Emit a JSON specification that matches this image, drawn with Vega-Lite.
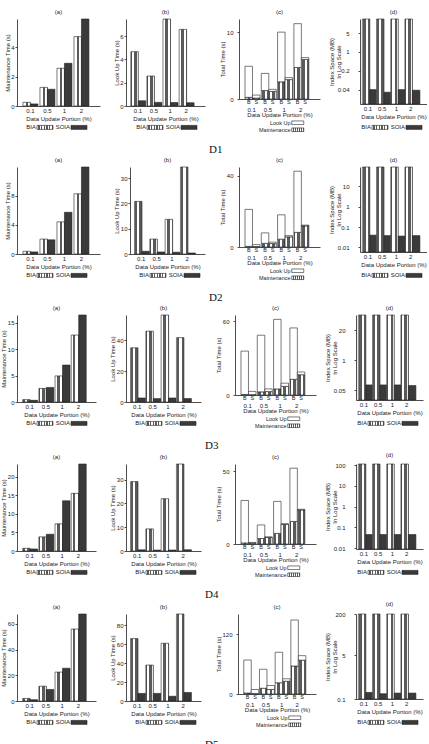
{
"$schema":"https://vega.github.io/schema/vega-lite/v6.json",
"padding":{"left":0,"top":8,"right":0,"bottom":0},
"params":[{"name":"hatch","expr":"{gradient:'linear',x1:0,y1:0,x2:1,y2:0,stops:[{offset:0,color:'#fff'},{offset:0.075,color:'#fff'},{offset:0.075,color:'#5a5a5a'},{offset:0.1667,color:'#5a5a5a'},{offset:0.1667,color:'#fff'},{offset:0.2417,color:'#fff'},{offset:0.2417,color:'#5a5a5a'},{offset:0.3333,color:'#5a5a5a'},{offset:0.3333,color:'#fff'},{offset:0.4083,color:'#fff'},{offset:0.4083,color:'#5a5a5a'},{offset:0.5,color:'#5a5a5a'},{offset:0.5,color:'#fff'},{offset:0.575,color:'#fff'},{offset:0.575,color:'#5a5a5a'},{offset:0.6667,color:'#5a5a5a'},{offset:0.6667,color:'#fff'},{offset:0.7417,color:'#fff'},{offset:0.7417,color:'#5a5a5a'},{offset:0.8333,color:'#5a5a5a'},{offset:0.8333,color:'#fff'},{offset:0.9083,color:'#fff'},{offset:0.9083,color:'#5a5a5a'},{offset:1,color:'#5a5a5a'}]}"}],
"datasets":{
"D1":[
{"g":"0.1","m":"BIA","ab":"B","Maintenance":0.25,"Look Up":4.66,"space":16.7},
{"g":"0.1","m":"SOIA","ab":"S","Maintenance":0.14,"Look Up":0.45,"space":0.04},
{"g":"0.5","m":"BIA","ab":"B","Maintenance":1.27,"Look Up":2.57,"space":16.7},
{"g":"0.5","m":"SOIA","ab":"S","Maintenance":1.14,"Look Up":0.31,"space":0.032},
{"g":"1","m":"BIA","ab":"B","Maintenance":2.57,"Look Up":7.46,"space":16.7},
{"g":"1","m":"SOIA","ab":"S","Maintenance":2.91,"Look Up":0.3,"space":0.04},
{"g":"2","m":"BIA","ab":"B","Maintenance":4.73,"Look Up":6.57,"space":16.7},
{"g":"2","m":"SOIA","ab":"S","Maintenance":5.93,"Look Up":0.28,"space":0.038}],
"D2":[
{"g":"0.1","m":"BIA","ab":"B","Maintenance":0.37,"Look Up":20.8,"space":86},
{"g":"0.1","m":"SOIA","ab":"S","Maintenance":0.28,"Look Up":1.07,"space":0.04},
{"g":"0.5","m":"BIA","ab":"B","Maintenance":2.04,"Look Up":5.9,"space":86},
{"g":"0.5","m":"SOIA","ab":"S","Maintenance":1.94,"Look Up":0.8,"space":0.038},
{"g":"1","m":"BIA","ab":"B","Maintenance":4.4,"Look Up":13.7,"space":86},
{"g":"1","m":"SOIA","ab":"S","Maintenance":5.7,"Look Up":0.7,"space":0.036},
{"g":"2","m":"BIA","ab":"B","Maintenance":8.24,"Look Up":34.4,"space":86},
{"g":"2","m":"SOIA","ab":"S","Maintenance":11.9,"Look Up":0.4,"space":0.038}],
"D3":[
{"g":"0.1","m":"BIA","ab":"B","Maintenance":0.45,"Look Up":35.2,"space":90},
{"g":"0.1","m":"SOIA","ab":"S","Maintenance":0.32,"Look Up":2.6,"space":0.085},
{"g":"0.5","m":"BIA","ab":"B","Maintenance":2.57,"Look Up":46,"space":90},
{"g":"0.5","m":"SOIA","ab":"S","Maintenance":2.77,"Look Up":2.2,"space":0.085},
{"g":"1","m":"BIA","ab":"B","Maintenance":4.95,"Look Up":56.5,"space":90},
{"g":"1","m":"SOIA","ab":"S","Maintenance":7.0,"Look Up":2.6,"space":0.085},
{"g":"2","m":"BIA","ab":"B","Maintenance":12.7,"Look Up":41.8,"space":90},
{"g":"2","m":"SOIA","ab":"S","Maintenance":16.5,"Look Up":2.2,"space":0.08}],
"D4":[
{"g":"0.1","m":"BIA","ab":"B","Maintenance":0.73,"Look Up":29.2,"space":115},
{"g":"0.1","m":"SOIA","ab":"S","Maintenance":0.55,"Look Up":0.5,"space":0.045},
{"g":"0.5","m":"BIA","ab":"B","Maintenance":3.8,"Look Up":9.3,"space":115},
{"g":"0.5","m":"SOIA","ab":"S","Maintenance":4.5,"Look Up":0.4,"space":0.045},
{"g":"1","m":"BIA","ab":"B","Maintenance":7.3,"Look Up":22,"space":115},
{"g":"1","m":"SOIA","ab":"S","Maintenance":13.5,"Look Up":0.4,"space":0.045},
{"g":"2","m":"BIA","ab":"B","Maintenance":15.5,"Look Up":36.6,"space":115},
{"g":"2","m":"SOIA","ab":"S","Maintenance":23.4,"Look Up":0.5,"space":0.045}],
"D5":[
{"g":"0.1","m":"BIA","ab":"B","Maintenance":2,"Look Up":66,"space":200},
{"g":"0.1","m":"SOIA","ab":"S","Maintenance":1,"Look Up":8,"space":0.18},
{"g":"0.5","m":"BIA","ab":"B","Maintenance":11.5,"Look Up":38,"space":200},
{"g":"0.5","m":"SOIA","ab":"S","Maintenance":9,"Look Up":8,"space":0.16},
{"g":"1","m":"BIA","ab":"B","Maintenance":22.5,"Look Up":61,"space":200},
{"g":"1","m":"SOIA","ab":"S","Maintenance":25.5,"Look Up":5,"space":0.17},
{"g":"2","m":"BIA","ab":"B","Maintenance":56,"Look Up":92,"space":200},
{"g":"2","m":"SOIA","ab":"S","Maintenance":67.7,"Look Up":9,"space":0.17}]
},
"spacing":1,
"resolve":{"scale":{"fill":"independent"},"legend":{"fill":"independent"}},
"vconcat":[
{"title":{"text":"D1","orient":"bottom","anchor":"middle","font":"Liberation Serif","fontSize":11,"fontWeight":"normal","color":"#111","offset":10},
"spacing":14,"resolve":{"scale":{"fill":"independent"},"legend":{"fill":"independent"}},
"hconcat":[
{"spacing":13,"resolve":{"scale":{"fill":"independent"},"legend":{"fill":"independent"}},"hconcat":[
{"title":"(a)","width":83,"height":87,"data":{"name":"D1"},"mark":"bar","encoding":{
"x":{"field":"g","type":"nominal","scale":{"domain":["0.1","0.5","1","2"],"paddingInner":0.12,"paddingOuter":0.5,"align":0.35},"axis":{"title":"Data Update Portion (%)"}},
"xOffset":{"field":"m","type":"nominal","scale":{"domain":["BIA","SOIA"]}},
"y":{"field":"Maintenance","type":"quantitative","scale":{"domain":[0,5.93]},"axis":{"values":[0,2,4],"title":"Maintenance Time (s)","minExtent":6,"maxExtent":6}},
"fill":{"field":"m","type":"nominal","scale":{"domain":["BIA","SOIA"],"range":[{"expr":"hatch"},"#3a3a3a"]},"legend":{"title":null,"orient":"none","legendX":25,"legendY":105,"direction":"horizontal","symbolType":"M-4,-1H4V1H-4Z","symbolSize":16,"labelAlign":"right","labelOffset":-12,"columnPadding":0,"encode":{"symbols":{"update":{"stroke":{"value":"#222"},"strokeWidth":{"value":0.6}}}}}}}},
{"title":"(b)","width":79,"height":87,"data":{"name":"D1"},"mark":"bar","encoding":{
"x":{"field":"g","type":"nominal","scale":{"domain":["0.1","0.5","1","2"],"paddingInner":0.12,"paddingOuter":0.51,"align":0.29},"axis":{"title":"Data Update Portion (%)"}},
"xOffset":{"field":"m","type":"nominal","scale":{"domain":["BIA","SOIA"]}},
"y":{"field":"Look Up","type":"quantitative","scale":{"domain":[0,7.46]},"axis":{"values":[0,2,4,6],"title":"Look Up Time (s)","minExtent":6.3,"maxExtent":6.3}},
"fill":{"field":"m","type":"nominal","scale":{"domain":["BIA","SOIA"],"range":[{"expr":"hatch"},"#3a3a3a"]},"legend":{"title":null,"orient":"none","legendX":26,"legendY":105,"direction":"horizontal","symbolType":"M-4,-1H4V1H-4Z","symbolSize":16,"labelAlign":"right","labelOffset":-12,"columnPadding":0,"encode":{"symbols":{"update":{"stroke":{"value":"#222"},"strokeWidth":{"value":0.6}}}}}}}}
]},
{"spacing":8,"resolve":{"scale":{"fill":"independent"},"legend":{"fill":"independent"}},"hconcat":[
{"title":"(c)","width":81,"height":80,"data":{"name":"D1"},"transform":[{"fold":["Maintenance","Look Up"],"as":["part","val"]}],"layer":[
{"mark":"bar","encoding":{
"x":{"field":"g","type":"nominal","scale":{"domain":["0.1","0.5","1","2"],"paddingInner":0.18,"paddingOuter":0.575,"align":0.32},"axis":{"title":"Data Update Portion (%)","labelPadding":7,"titlePadding":-1}},
"xOffset":{"field":"m","type":"nominal","scale":{"domain":["BIA","SOIA"]}},
"y":{"field":"val","type":"quantitative","stack":"zero","scale":{"domain":[0,11.3]},"axis":{"values":[0,5,10],"title":"Total Time (s)","labelPadding":4,"minExtent":12.7,"maxExtent":12.7}},
"order":{"field":"part","sort":"descending"},
"fill":{"field":"part","type":"nominal","scale":{"domain":["Look Up","Maintenance"],"range":["#ffffff",{"expr":"hatch"}]},"legend":{"title":null,"orient":"none","legendX":56,"legendY":101,"direction":"vertical","symbolType":"M-3,-0.9H3V0.9H-3Z","symbolSize":16,"labelAlign":"right","labelOffset":-10,"rowPadding":-1,"labelFontSize":5.5,"labelExpr":"datum.label == 'Look Up' ? '       Look Up' : datum.label","encode":{"symbols":{"update":{"stroke":{"value":"#222"},"strokeWidth":{"value":0.6}}}}}}}},
{"transform":[{"filter":"datum.part === 'Maintenance'"}],"mark":{"type":"text","baseline":"top","dy":1,"fontSize":5.5,"color":"#222"},"encoding":{
"x":{"field":"g","type":"nominal"},"xOffset":{"field":"m","type":"nominal"},"y":{"datum":0,"type":"quantitative"},"text":{"field":"ab"}}}
]},
{"title":"(d)","width":67,"height":85,"data":{"name":"D1"},"mark":"bar","encoding":{
"x":{"field":"g","type":"nominal","scale":{"domain":["0.1","0.5","1","2"],"paddingInner":0.2,"paddingOuter":0.46,"align":0.18},"axis":{"title":"Data Update Portion (%)"}},
"xOffset":{"field":"m","type":"nominal","scale":{"domain":["BIA","SOIA"]}},
"y":{"field":"space","type":"quantitative","scale":{"type":"log","domain":[0.0117,16.7]},"axis":{"values":[0.04,0.2,1,5],"format":"~g","title":["Index Space (MB)","In Log Scale"],"labelPadding":9,"minExtent":17,"maxExtent":17,"titlePadding":2,"titleLineHeight":6.5}},
"y2":{"datum":0.0117},
"fill":{"field":"m","type":"nominal","scale":{"domain":["BIA","SOIA"],"range":[{"expr":"hatch"},"#3a3a3a"]},"legend":{"title":null,"orient":"none","legendX":17,"legendY":105,"direction":"horizontal","symbolType":"M-4,-1H4V1H-4Z","symbolSize":16,"labelAlign":"right","labelOffset":-12,"columnPadding":0,"encode":{"symbols":{"update":{"stroke":{"value":"#222"},"strokeWidth":{"value":0.6}}}}}}}}
]}
]},
{"title":{"text":"D2","orient":"bottom","anchor":"middle","font":"Liberation Serif","fontSize":11,"fontWeight":"normal","color":"#111","offset":10},
"spacing":14,"resolve":{"scale":{"fill":"independent"},"legend":{"fill":"independent"}},
"hconcat":[
{"spacing":13,"resolve":{"scale":{"fill":"independent"},"legend":{"fill":"independent"}},"hconcat":[
{"title":"(a)","width":83,"height":87,"data":{"name":"D2"},"mark":"bar","encoding":{
"x":{"field":"g","type":"nominal","scale":{"domain":["0.1","0.5","1","2"],"paddingInner":0.12,"paddingOuter":0.5,"align":0.35},"axis":{"title":"Data Update Portion (%)"}},
"xOffset":{"field":"m","type":"nominal","scale":{"domain":["BIA","SOIA"]}},
"y":{"field":"Maintenance","type":"quantitative","scale":{"domain":[0,11.9]},"axis":{"values":[0,4,8],"title":"Maintenance Time (s)","minExtent":6,"maxExtent":6}},
"fill":{"field":"m","type":"nominal","scale":{"domain":["BIA","SOIA"],"range":[{"expr":"hatch"},"#3a3a3a"]},"legend":{"title":null,"orient":"none","legendX":25,"legendY":105,"direction":"horizontal","symbolType":"M-4,-1H4V1H-4Z","symbolSize":16,"labelAlign":"right","labelOffset":-12,"columnPadding":0,"encode":{"symbols":{"update":{"stroke":{"value":"#222"},"strokeWidth":{"value":0.6}}}}}}}},
{"title":"(b)","width":75,"height":87,"data":{"name":"D2"},"mark":"bar","encoding":{
"x":{"field":"g","type":"nominal","scale":{"domain":["0.1","0.5","1","2"],"paddingInner":0.12,"paddingOuter":0.51,"align":0.29},"axis":{"title":"Data Update Portion (%)"}},
"xOffset":{"field":"m","type":"nominal","scale":{"domain":["BIA","SOIA"]}},
"y":{"field":"Look Up","type":"quantitative","scale":{"domain":[0,34.4]},"axis":{"values":[0,10,20,30],"title":"Look Up Time (s)","minExtent":9.7,"maxExtent":9.7}},
"fill":{"field":"m","type":"nominal","scale":{"domain":["BIA","SOIA"],"range":[{"expr":"hatch"},"#3a3a3a"]},"legend":{"title":null,"orient":"none","legendX":25,"legendY":105,"direction":"horizontal","symbolType":"M-4,-1H4V1H-4Z","symbolSize":16,"labelAlign":"right","labelOffset":-12,"columnPadding":0,"encode":{"symbols":{"update":{"stroke":{"value":"#222"},"strokeWidth":{"value":0.6}}}}}}}}
]},
{"spacing":8,"resolve":{"scale":{"fill":"independent"},"legend":{"fill":"independent"}},"hconcat":[
{"title":"(c)","width":81,"height":80,"data":{"name":"D2"},"transform":[{"fold":["Maintenance","Look Up"],"as":["part","val"]}],"layer":[
{"mark":"bar","encoding":{
"x":{"field":"g","type":"nominal","scale":{"domain":["0.1","0.5","1","2"],"paddingInner":0.18,"paddingOuter":0.575,"align":0.32},"axis":{"title":"Data Update Portion (%)","labelPadding":7,"titlePadding":-1}},
"xOffset":{"field":"m","type":"nominal","scale":{"domain":["BIA","SOIA"]}},
"y":{"field":"val","type":"quantitative","stack":"zero","scale":{"domain":[0,42.6]},"axis":{"values":[0,10,20,30,40],"title":"Total Time (s)","labelPadding":4,"minExtent":12.7,"maxExtent":12.7}},
"order":{"field":"part","sort":"descending"},
"fill":{"field":"part","type":"nominal","scale":{"domain":["Look Up","Maintenance"],"range":["#ffffff",{"expr":"hatch"}]},"legend":{"title":null,"orient":"none","legendX":56,"legendY":101,"direction":"vertical","symbolType":"M-3,-0.9H3V0.9H-3Z","symbolSize":16,"labelAlign":"right","labelOffset":-10,"rowPadding":-1,"labelFontSize":5.5,"labelExpr":"datum.label == 'Look Up' ? '       Look Up' : datum.label","encode":{"symbols":{"update":{"stroke":{"value":"#222"},"strokeWidth":{"value":0.6}}}}}}}},
{"transform":[{"filter":"datum.part === 'Maintenance'"}],"mark":{"type":"text","baseline":"top","dy":1,"fontSize":5.5,"color":"#222"},"encoding":{
"x":{"field":"g","type":"nominal"},"xOffset":{"field":"m","type":"nominal"},"y":{"datum":0,"type":"quantitative"},"text":{"field":"ab"}}}
]},
{"title":"(d)","width":67,"height":85,"data":{"name":"D2"},"mark":"bar","encoding":{
"x":{"field":"g","type":"nominal","scale":{"domain":["0.1","0.5","1","2"],"paddingInner":0.2,"paddingOuter":0.46,"align":0.18},"axis":{"title":"Data Update Portion (%)"}},
"xOffset":{"field":"m","type":"nominal","scale":{"domain":["BIA","SOIA"]}},
"y":{"field":"space","type":"quantitative","scale":{"type":"log","domain":[0.006,86]},"axis":{"values":[0.01,0.1,1,10],"format":"~g","title":["Index Space (MB)","In Log Scale"],"labelPadding":9,"minExtent":17,"maxExtent":17,"titlePadding":2,"titleLineHeight":6.5}},
"y2":{"datum":0.006},
"fill":{"field":"m","type":"nominal","scale":{"domain":["BIA","SOIA"],"range":[{"expr":"hatch"},"#3a3a3a"]},"legend":{"title":null,"orient":"none","legendX":17,"legendY":105,"direction":"horizontal","symbolType":"M-4,-1H4V1H-4Z","symbolSize":16,"labelAlign":"right","labelOffset":-12,"columnPadding":0,"encode":{"symbols":{"update":{"stroke":{"value":"#222"},"strokeWidth":{"value":0.6}}}}}}}}
]}
]},
{"title":{"text":"D3","orient":"bottom","anchor":"middle","font":"Liberation Serif","fontSize":11,"fontWeight":"normal","color":"#111","offset":10},
"spacing":14,"resolve":{"scale":{"fill":"independent"},"legend":{"fill":"independent"}},
"hconcat":[
{"spacing":13,"resolve":{"scale":{"fill":"independent"},"legend":{"fill":"independent"}},"hconcat":[
{"title":"(a)","width":79,"height":87,"data":{"name":"D3"},"mark":"bar","encoding":{
"x":{"field":"g","type":"nominal","scale":{"domain":["0.1","0.5","1","2"],"paddingInner":0.12,"paddingOuter":0.5,"align":0.35},"axis":{"title":"Data Update Portion (%)"}},
"xOffset":{"field":"m","type":"nominal","scale":{"domain":["BIA","SOIA"]}},
"y":{"field":"Maintenance","type":"quantitative","scale":{"domain":[0,16.5]},"axis":{"values":[0,5,10,15],"title":"Maintenance Time (s)","minExtent":10,"maxExtent":10}},
"fill":{"field":"m","type":"nominal","scale":{"domain":["BIA","SOIA"],"range":[{"expr":"hatch"},"#3a3a3a"]},"legend":{"title":null,"orient":"none","legendX":25,"legendY":105,"direction":"horizontal","symbolType":"M-4,-1H4V1H-4Z","symbolSize":16,"labelAlign":"right","labelOffset":-12,"columnPadding":0,"encode":{"symbols":{"update":{"stroke":{"value":"#222"},"strokeWidth":{"value":0.6}}}}}}}},
{"title":"(b)","width":75,"height":87,"data":{"name":"D3"},"mark":"bar","encoding":{
"x":{"field":"g","type":"nominal","scale":{"domain":["0.1","0.5","1","2"],"paddingInner":0.12,"paddingOuter":0.51,"align":0.29},"axis":{"title":"Data Update Portion (%)"}},
"xOffset":{"field":"m","type":"nominal","scale":{"domain":["BIA","SOIA"]}},
"y":{"field":"Look Up","type":"quantitative","scale":{"domain":[0,56.5]},"axis":{"values":[0,20,40],"title":"Look Up Time (s)","minExtent":9.7,"maxExtent":9.7}},
"fill":{"field":"m","type":"nominal","scale":{"domain":["BIA","SOIA"],"range":[{"expr":"hatch"},"#3a3a3a"]},"legend":{"title":null,"orient":"none","legendX":25,"legendY":105,"direction":"horizontal","symbolType":"M-4,-1H4V1H-4Z","symbolSize":16,"labelAlign":"right","labelOffset":-12,"columnPadding":0,"encode":{"symbols":{"update":{"stroke":{"value":"#222"},"strokeWidth":{"value":0.6}}}}}}}}
]},
{"spacing":8,"resolve":{"scale":{"fill":"independent"},"legend":{"fill":"independent"}},"hconcat":[
{"title":"(c)","width":81,"height":80,"data":{"name":"D3"},"transform":[{"fold":["Maintenance","Look Up"],"as":["part","val"]}],"layer":[
{"mark":"bar","encoding":{
"x":{"field":"g","type":"nominal","scale":{"domain":["0.1","0.5","1","2"],"paddingInner":0.18,"paddingOuter":0.575,"align":0.32},"axis":{"title":"Data Update Portion (%)","labelPadding":7,"titlePadding":-1}},
"xOffset":{"field":"m","type":"nominal","scale":{"domain":["BIA","SOIA"]}},
"y":{"field":"val","type":"quantitative","stack":"zero","scale":{"domain":[0,61.5]},"axis":{"values":[0,20,40,60],"title":"Total Time (s)","labelPadding":4,"minExtent":12.7,"maxExtent":12.7}},
"order":{"field":"part","sort":"descending"},
"fill":{"field":"part","type":"nominal","scale":{"domain":["Look Up","Maintenance"],"range":["#ffffff",{"expr":"hatch"}]},"legend":{"title":null,"orient":"none","legendX":56,"legendY":101,"direction":"vertical","symbolType":"M-3,-0.9H3V0.9H-3Z","symbolSize":16,"labelAlign":"right","labelOffset":-10,"rowPadding":-1,"labelFontSize":5.5,"labelExpr":"datum.label == 'Look Up' ? '       Look Up' : datum.label","encode":{"symbols":{"update":{"stroke":{"value":"#222"},"strokeWidth":{"value":0.6}}}}}}}},
{"transform":[{"filter":"datum.part === 'Maintenance'"}],"mark":{"type":"text","baseline":"top","dy":1,"fontSize":5.5,"color":"#222"},"encoding":{
"x":{"field":"g","type":"nominal"},"xOffset":{"field":"m","type":"nominal"},"y":{"datum":0,"type":"quantitative"},"text":{"field":"ab"}}}
]},
{"title":"(d)","width":67,"height":85,"data":{"name":"D3"},"mark":"bar","encoding":{
"x":{"field":"g","type":"nominal","scale":{"domain":["0.1","0.5","1","2"],"paddingInner":0.2,"paddingOuter":0.46,"align":0.18},"axis":{"title":"Data Update Portion (%)"}},
"xOffset":{"field":"m","type":"nominal","scale":{"domain":["BIA","SOIA"]}},
"y":{"field":"space","type":"quantitative","scale":{"type":"log","domain":[0.019,90]},"axis":{"values":[0.05,1,20],"format":"~g","title":["Index Space (MB)","In Log Scale"],"labelPadding":9,"minExtent":17,"maxExtent":17,"titlePadding":2,"titleLineHeight":6.5}},
"y2":{"datum":0.019},
"fill":{"field":"m","type":"nominal","scale":{"domain":["BIA","SOIA"],"range":[{"expr":"hatch"},"#3a3a3a"]},"legend":{"title":null,"orient":"none","legendX":17,"legendY":105,"direction":"horizontal","symbolType":"M-4,-1H4V1H-4Z","symbolSize":16,"labelAlign":"right","labelOffset":-12,"columnPadding":0,"encode":{"symbols":{"update":{"stroke":{"value":"#222"},"strokeWidth":{"value":0.6}}}}}}}}
]}
]},
{"title":{"text":"D4","orient":"bottom","anchor":"middle","font":"Liberation Serif","fontSize":11,"fontWeight":"normal","color":"#111","offset":10},
"spacing":14,"resolve":{"scale":{"fill":"independent"},"legend":{"fill":"independent"}},
"hconcat":[
{"spacing":13,"resolve":{"scale":{"fill":"independent"},"legend":{"fill":"independent"}},"hconcat":[
{"title":"(a)","width":79,"height":87,"data":{"name":"D4"},"mark":"bar","encoding":{
"x":{"field":"g","type":"nominal","scale":{"domain":["0.1","0.5","1","2"],"paddingInner":0.12,"paddingOuter":0.5,"align":0.35},"axis":{"title":"Data Update Portion (%)"}},
"xOffset":{"field":"m","type":"nominal","scale":{"domain":["BIA","SOIA"]}},
"y":{"field":"Maintenance","type":"quantitative","scale":{"domain":[0,23.4]},"axis":{"values":[0,5,10,15,20],"title":"Maintenance Time (s)","minExtent":10,"maxExtent":10}},
"fill":{"field":"m","type":"nominal","scale":{"domain":["BIA","SOIA"],"range":[{"expr":"hatch"},"#3a3a3a"]},"legend":{"title":null,"orient":"none","legendX":25,"legendY":105,"direction":"horizontal","symbolType":"M-4,-1H4V1H-4Z","symbolSize":16,"labelAlign":"right","labelOffset":-12,"columnPadding":0,"encode":{"symbols":{"update":{"stroke":{"value":"#222"},"strokeWidth":{"value":0.6}}}}}}}},
{"title":"(b)","width":75,"height":87,"data":{"name":"D4"},"mark":"bar","encoding":{
"x":{"field":"g","type":"nominal","scale":{"domain":["0.1","0.5","1","2"],"paddingInner":0.12,"paddingOuter":0.51,"align":0.29},"axis":{"title":"Data Update Portion (%)"}},
"xOffset":{"field":"m","type":"nominal","scale":{"domain":["BIA","SOIA"]}},
"y":{"field":"Look Up","type":"quantitative","scale":{"domain":[0,36.6]},"axis":{"values":[0,10,20,30],"title":"Look Up Time (s)","minExtent":9.7,"maxExtent":9.7}},
"fill":{"field":"m","type":"nominal","scale":{"domain":["BIA","SOIA"],"range":[{"expr":"hatch"},"#3a3a3a"]},"legend":{"title":null,"orient":"none","legendX":25,"legendY":105,"direction":"horizontal","symbolType":"M-4,-1H4V1H-4Z","symbolSize":16,"labelAlign":"right","labelOffset":-12,"columnPadding":0,"encode":{"symbols":{"update":{"stroke":{"value":"#222"},"strokeWidth":{"value":0.6}}}}}}}}
]},
{"spacing":8,"resolve":{"scale":{"fill":"independent"},"legend":{"fill":"independent"}},"hconcat":[
{"title":"(c)","width":81,"height":80,"data":{"name":"D4"},"transform":[{"fold":["Maintenance","Look Up"],"as":["part","val"]}],"layer":[
{"mark":"bar","encoding":{
"x":{"field":"g","type":"nominal","scale":{"domain":["0.1","0.5","1","2"],"paddingInner":0.18,"paddingOuter":0.575,"align":0.32},"axis":{"title":"Data Update Portion (%)","labelPadding":7,"titlePadding":-1}},
"xOffset":{"field":"m","type":"nominal","scale":{"domain":["BIA","SOIA"]}},
"y":{"field":"val","type":"quantitative","stack":"zero","scale":{"domain":[0,52.1]},"axis":{"values":[0,10,20,30,40,50],"title":"Total Time (s)","labelPadding":4,"minExtent":12.7,"maxExtent":12.7}},
"order":{"field":"part","sort":"descending"},
"fill":{"field":"part","type":"nominal","scale":{"domain":["Look Up","Maintenance"],"range":["#ffffff",{"expr":"hatch"}]},"legend":{"title":null,"orient":"none","legendX":56,"legendY":101,"direction":"vertical","symbolType":"M-3,-0.9H3V0.9H-3Z","symbolSize":16,"labelAlign":"right","labelOffset":-10,"rowPadding":-1,"labelFontSize":5.5,"labelExpr":"datum.label == 'Look Up' ? '       Look Up' : datum.label","encode":{"symbols":{"update":{"stroke":{"value":"#222"},"strokeWidth":{"value":0.6}}}}}}}},
{"transform":[{"filter":"datum.part === 'Maintenance'"}],"mark":{"type":"text","baseline":"top","dy":1,"fontSize":5.5,"color":"#222"},"encoding":{
"x":{"field":"g","type":"nominal"},"xOffset":{"field":"m","type":"nominal"},"y":{"datum":0,"type":"quantitative"},"text":{"field":"ab"}}}
]},
{"title":"(d)","width":67,"height":85,"data":{"name":"D4"},"mark":"bar","encoding":{
"x":{"field":"g","type":"nominal","scale":{"domain":["0.1","0.5","1","2"],"paddingInner":0.2,"paddingOuter":0.46,"align":0.18},"axis":{"title":"Data Update Portion (%)"}},
"xOffset":{"field":"m","type":"nominal","scale":{"domain":["BIA","SOIA"]}},
"y":{"field":"space","type":"quantitative","scale":{"type":"log","domain":[0.009,115]},"axis":{"values":[0.01,0.1,1,10,100],"format":"~g","title":["Index Space (MB)","In Log Scale"],"labelPadding":9,"minExtent":17,"maxExtent":17,"titlePadding":2,"titleLineHeight":6.5}},
"y2":{"datum":0.009},
"fill":{"field":"m","type":"nominal","scale":{"domain":["BIA","SOIA"],"range":[{"expr":"hatch"},"#3a3a3a"]},"legend":{"title":null,"orient":"none","legendX":17,"legendY":105,"direction":"horizontal","symbolType":"M-4,-1H4V1H-4Z","symbolSize":16,"labelAlign":"right","labelOffset":-12,"columnPadding":0,"encode":{"symbols":{"update":{"stroke":{"value":"#222"},"strokeWidth":{"value":0.6}}}}}}}}
]}
]},
{"title":{"text":"D5","orient":"bottom","anchor":"middle","font":"Liberation Serif","fontSize":11,"fontWeight":"normal","color":"#111","offset":10},
"spacing":14,"resolve":{"scale":{"fill":"independent"},"legend":{"fill":"independent"}},
"hconcat":[
{"spacing":13,"resolve":{"scale":{"fill":"independent"},"legend":{"fill":"independent"}},"hconcat":[
{"title":"(a)","width":79,"height":87,"data":{"name":"D5"},"mark":"bar","encoding":{
"x":{"field":"g","type":"nominal","scale":{"domain":["0.1","0.5","1","2"],"paddingInner":0.12,"paddingOuter":0.5,"align":0.35},"axis":{"title":"Data Update Portion (%)"}},
"xOffset":{"field":"m","type":"nominal","scale":{"domain":["BIA","SOIA"]}},
"y":{"field":"Maintenance","type":"quantitative","scale":{"domain":[0,67.7]},"axis":{"values":[0,20,40,60],"title":"Maintenance Time (s)","minExtent":10,"maxExtent":10}},
"fill":{"field":"m","type":"nominal","scale":{"domain":["BIA","SOIA"],"range":[{"expr":"hatch"},"#3a3a3a"]},"legend":{"title":null,"orient":"none","legendX":25,"legendY":105,"direction":"horizontal","symbolType":"M-4,-1H4V1H-4Z","symbolSize":16,"labelAlign":"right","labelOffset":-12,"columnPadding":0,"encode":{"symbols":{"update":{"stroke":{"value":"#222"},"strokeWidth":{"value":0.6}}}}}}}},
{"title":"(b)","width":75,"height":87,"data":{"name":"D5"},"mark":"bar","encoding":{
"x":{"field":"g","type":"nominal","scale":{"domain":["0.1","0.5","1","2"],"paddingInner":0.12,"paddingOuter":0.51,"align":0.29},"axis":{"title":"Data Update Portion (%)"}},
"xOffset":{"field":"m","type":"nominal","scale":{"domain":["BIA","SOIA"]}},
"y":{"field":"Look Up","type":"quantitative","scale":{"domain":[0,92]},"axis":{"values":[0,20,40,60,80],"title":"Look Up Time (s)","minExtent":9.7,"maxExtent":9.7}},
"fill":{"field":"m","type":"nominal","scale":{"domain":["BIA","SOIA"],"range":[{"expr":"hatch"},"#3a3a3a"]},"legend":{"title":null,"orient":"none","legendX":25,"legendY":105,"direction":"horizontal","symbolType":"M-4,-1H4V1H-4Z","symbolSize":16,"labelAlign":"right","labelOffset":-12,"columnPadding":0,"encode":{"symbols":{"update":{"stroke":{"value":"#222"},"strokeWidth":{"value":0.6}}}}}}}}
]},
{"spacing":8,"resolve":{"scale":{"fill":"independent"},"legend":{"fill":"independent"}},"hconcat":[
{"title":"(c)","width":78,"height":80,"data":{"name":"D5"},"transform":[{"fold":["Maintenance","Look Up"],"as":["part","val"]}],"layer":[
{"mark":"bar","encoding":{
"x":{"field":"g","type":"nominal","scale":{"domain":["0.1","0.5","1","2"],"paddingInner":0.18,"paddingOuter":0.575,"align":0.32},"axis":{"title":"Data Update Portion (%)","labelPadding":7,"titlePadding":-1}},
"xOffset":{"field":"m","type":"nominal","scale":{"domain":["BIA","SOIA"]}},
"y":{"field":"val","type":"quantitative","stack":"zero","scale":{"domain":[0,148]},"axis":{"values":[0,30,60,90,120],"title":"Total Time (s)","labelPadding":4,"minExtent":16,"maxExtent":16}},
"order":{"field":"part","sort":"descending"},
"fill":{"field":"part","type":"nominal","scale":{"domain":["Look Up","Maintenance"],"range":["#ffffff",{"expr":"hatch"}]},"legend":{"title":null,"orient":"none","legendX":54,"legendY":101,"direction":"vertical","symbolType":"M-3,-0.9H3V0.9H-3Z","symbolSize":16,"labelAlign":"right","labelOffset":-10,"rowPadding":-1,"labelFontSize":5.5,"labelExpr":"datum.label == 'Look Up' ? '       Look Up' : datum.label","encode":{"symbols":{"update":{"stroke":{"value":"#222"},"strokeWidth":{"value":0.6}}}}}}}},
{"transform":[{"filter":"datum.part === 'Maintenance'"}],"mark":{"type":"text","baseline":"top","dy":1,"fontSize":5.5,"color":"#222"},"encoding":{
"x":{"field":"g","type":"nominal"},"xOffset":{"field":"m","type":"nominal"},"y":{"datum":0,"type":"quantitative"},"text":{"field":"ab"}}}
]},
{"title":"(d)","width":67,"height":85,"data":{"name":"D5"},"mark":"bar","encoding":{
"x":{"field":"g","type":"nominal","scale":{"domain":["0.1","0.5","1","2"],"paddingInner":0.2,"paddingOuter":0.46,"align":0.18},"axis":{"title":"Data Update Portion (%)"}},
"xOffset":{"field":"m","type":"nominal","scale":{"domain":["BIA","SOIA"]}},
"y":{"field":"space","type":"quantitative","scale":{"type":"log","domain":[0.1,200]},"axis":{"values":[0.1,5,200],"format":"~g","title":["Index Space (MB)","In Log Scale"],"labelPadding":9,"minExtent":17,"maxExtent":17,"titlePadding":2,"titleLineHeight":6.5}},
"y2":{"datum":0.1},
"fill":{"field":"m","type":"nominal","scale":{"domain":["BIA","SOIA"],"range":[{"expr":"hatch"},"#3a3a3a"]},"legend":{"title":null,"orient":"none","legendX":17,"legendY":105,"direction":"horizontal","symbolType":"M-4,-1H4V1H-4Z","symbolSize":16,"labelAlign":"right","labelOffset":-12,"columnPadding":0,"encode":{"symbols":{"update":{"stroke":{"value":"#222"},"strokeWidth":{"value":0.6}}}}}}}}
]}
]}
],
"config":{
"font":"Liberation Sans",
"view":{"stroke":null},
"axis":{"labelFontSize":6,"titleFontSize":6,"titleFontWeight":"normal","labelColor":"#222","titleColor":"#222","domainColor":"#222","tickColor":"#222","domainWidth":0.8,"tickWidth":0.8,"grid":false,"labelFont":"Liberation Sans","titleFont":"Liberation Sans"},
"axisX":{"ticks":false,"labelPadding":1.5,"labelAngle":0,"titlePadding":2},
"axisY":{"tickSize":2,"labelPadding":1,"titlePadding":0.5},
"title":{"fontSize":6,"fontWeight":"normal","font":"Liberation Sans","offset":4,"color":"#222"},
"legend":{"labelFontSize":6,"labelFont":"Liberation Sans","labelColor":"#222","padding":0},
"bar":{"stroke":"#222","strokeWidth":0.6}
}
}
